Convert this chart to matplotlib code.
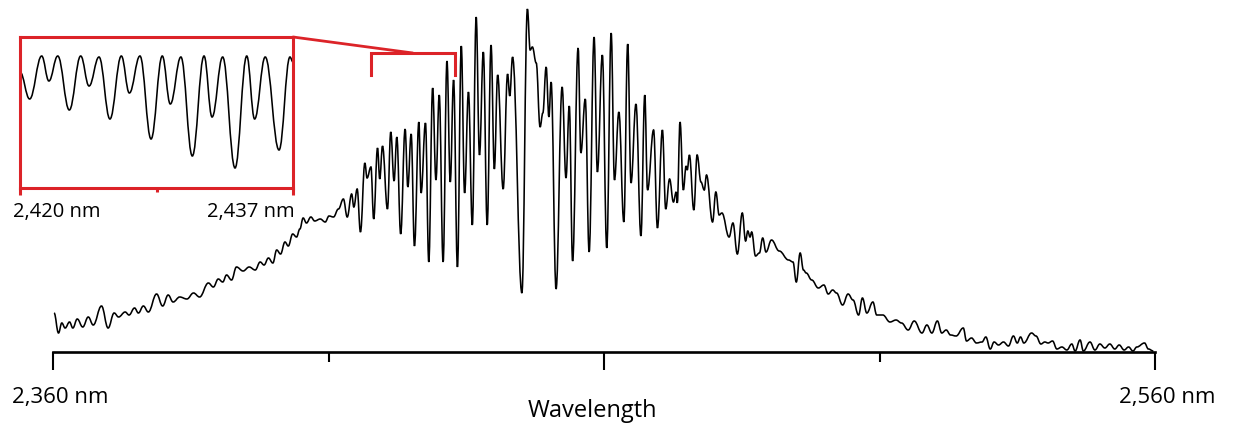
import matplotlib
matplotlib.use('Agg')
import matplotlib.pyplot as plt
from matplotlib.path import Path
from matplotlib.patches import PathPatch, ConnectionPatch
from matplotlib.transforms import ScaledTranslation

plt.rcParams['font.family'] = ['Open Sans', 'DejaVu Sans']

# main spectrum: wavelength (nm) and intensity (a.u.), read at the wiggle extrema
wavelength = [
    2360.2, 2361.0, 2361.6, 2362.2, 2363.0, 2363.6, 2364.4, 2365.4, 2366.4, 2367.3,
    2368.8, 2370.0, 2371.1, 2371.9, 2373.1, 2373.8, 2374.8, 2375.5, 2376.4, 2377.3,
    2378.8, 2379.9, 2380.9, 2381.8, 2383.0, 2384.3, 2385.5, 2386.6, 2388.2, 2389.1,
    2390.0, 2390.8, 2391.5, 2392.4, 2393.3, 2394.5, 2395.6, 2396.7, 2397.6, 2398.3,
    2399.1, 2399.9, 2400.6, 2401.3, 2402.1, 2402.7, 2403.5, 2404.2, 2404.8, 2405.4,
    2406.0, 2406.8, 2407.5, 2408.5, 2409.4, 2410.1, 2410.9, 2411.8,
    2412.7, 2413.4, 2414.2, 2414.6, 2415.2, 2415.8, 2416.6, 2417.0, 2417.7, 2418.2,
    2418.9, 2419.3, 2419.8, 2420.7, 2421.3, 2421.9, 2422.4, 2423.1, 2423.9, 2424.4,
    2425.0, 2425.6, 2426.4, 2426.8, 2427.6, 2428.2, 2428.9, 2429.5, 2430.1, 2430.8,
    2431.5, 2432.1, 2432.7, 2433.4, 2434.1, 2434.7, 2435.4, 2436.1, 2436.8, 2437.4,
    2438.1, 2438.8, 2439.5, 2440.1, 2440.7, 2441.7, 2442.5, 2442.9, 2443.4, 2445.1,
    2446.1, 2446.6, 2447.0, 2447.7, 2448.4, 2448.9, 2449.5, 2450.0, 2450.4, 2451.3,
    2452.4, 2453.1, 2453.7, 2454.3, 2455.3, 2455.8, 2456.6, 2457.3, 2458.2, 2458.8,
    2459.7, 2460.5, 2461.3, 2461.9, 2462.7, 2463.6, 2464.3, 2464.9, 2465.8, 2466.7,
    2467.4, 2467.9, 2469.0, 2469.7, 2470.6, 2471.2, 2471.9, 2472.6, 2473.1, 2473.3,
    2473.8, 2474.4, 2474.9, 2475.1, 2475.5, 2476.3, 2476.9, 2477.6, 2478.2, 2478.6,
    2479.7, 2480.3, 2480.9, 2481.4, 2482.7, 2483.4, 2484.2, 2485.1, 2485.7, 2486.1,
    2486.5, 2486.8, 2487.5, 2488.2, 2488.8, 2489.4, 2490.4, 2491.8, 2493.5, 2494.3,
    2494.9, 2495.6, 2496.2, 2496.7, 2497.7, 2498.9, 2499.9, 2500.7, 2501.5, 2502.2,
    2503.3, 2504.3, 2505.2, 2506.2, 2506.9, 2507.7, 2508.8, 2509.5, 2510.6, 2511.9,
    2513.0, 2514.0, 2515.2, 2516.3, 2517.7, 2518.6, 2519.5, 2520.5, 2521.3, 2522.1,
    2522.9, 2523.9, 2525.2, 2525.8, 2526.7, 2527.6, 2528.6, 2529.3, 2530.1, 2530.8,
    2531.6, 2532.5, 2533.4, 2534.3, 2535.0, 2535.6, 2536.2, 2537.6, 2538.4, 2539.3,
    2540.0, 2540.6, 2541.4, 2542.2, 2543.1, 2544.0, 2544.9, 2545.5, 2546.4, 2547.0,
    2548.2, 2549.1, 2550.0, 2550.9, 2551.8, 2552.7, 2553.5, 2554.4, 2555.2, 2556.0,
    2556.7, 2558.1, 2558.8, 2559.7,
]
intensity = [
    39, 19, 29, 24, 30, 24, 33, 25, 35, 27,
    46, 24, 39, 35, 40, 37, 44, 39, 46, 40,
    58, 46, 57, 50, 55, 53, 59, 55, 69, 65,
    73, 70, 77, 72, 85, 81, 85, 82, 90, 87,
    94, 89, 102, 98, 110, 106, 118, 115, 123, 134,
    129, 135, 131, 133, 130, 136, 135, 143,
    153, 135, 158, 145, 163, 120, 189, 174, 185, 133,
    204, 173, 206, 143, 220, 171, 215, 118, 223, 165,
    218, 106, 230, 159, 229, 90, 264, 172, 257, 90,
    291, 170, 272, 85, 306, 159, 260, 127, 335, 197,
    300, 127, 307, 183, 277, 163, 278, 256, 295, 59,
    343, 302, 305, 289, 225, 239, 285, 235, 270, 63,
    265, 174, 246, 91, 304, 199, 253, 100, 315, 180,
    297, 104, 319, 172, 240, 130, 308, 169, 248, 116,
    257, 162, 222, 124, 222, 143, 173, 150, 160, 149,
    230, 162, 186, 182, 197, 142, 197, 170, 162, 177,
    130, 160, 137, 139, 115, 129, 98, 139, 111, 121,
    115, 120, 96, 99, 114, 100, 112, 101, 92, 90,
    70, 99, 82, 79, 72, 64, 67, 58, 62, 59,
    47, 58, 52, 37, 54, 39, 50, 37, 37, 30,
    32, 29, 22, 31, 19, 27, 19, 31, 19, 22,
    17, 16, 24, 11, 14, 9, 10, 15, 3, 10,
    7, 10, 6, 16, 9, 15, 9, 19, 16, 8,
    10, 9, 11, 3, 5, 2, 8, 1, 12, 1,
    10, 2, 8, 4, 8, 3, 7, 2, 5, 1,
    5, 9, 3, 1,
]

# zoomed window 2,420-2,437 nm
inset_wavelength = [
    2420.0, 2420.6, 2421.35, 2421.8, 2422.35, 2423.07, 2423.78, 2424.3, 2424.92, 2425.6,
    2426.31, 2426.81, 2427.47, 2428.16, 2428.86, 2429.36, 2430.02, 2430.73, 2431.46, 2431.96,
    2432.62, 2433.39, 2434.12, 2434.61, 2435.27, 2436.13, 2436.81, 2437.0,
]
inset_intensity = [
    116, 89, 132, 107, 132, 78, 132, 102, 131, 69,
    132, 95, 132, 49, 132, 84, 131, 32, 132, 71,
    131, 20, 132, 69, 131, 38, 131, 126,
]

main_ticks = [2360, 2460, 2560]
main_tick_labels = ['2,360 nm', '', '2,560 nm']
minor_ticks = [2410, 2510]
bracket_x = [2417.8, 2433.0]
bracket_top = 299
bracket_drop = 22
connector_x = 2425.3

red = '#dc2328'


def smooth_path(xs, ys, k=0.4):
    # cubic segments with flat tangents at each extremum
    verts = [(xs[0], ys[0])]
    codes = [Path.MOVETO]
    for i in range(1, len(xs)):
        dx = xs[i] - xs[i - 1]
        verts += [(xs[i - 1] + k * dx, ys[i - 1]), (xs[i] - k * dx, ys[i]), (xs[i], ys[i])]
        codes += [Path.CURVE4] * 3
    return Path(verts, codes)


fig = plt.figure(figsize=(12.34, 4.36), dpi=100)
ax = fig.add_axes([53 / 1234, 84 / 436, 1102 / 1234, 345 / 436])
ax.add_patch(PathPatch(smooth_path(wavelength, intensity), fill=False, color='black', lw=1.15))
ax.set_xlim(2360, 2560)
ax.set_ylim(0, 345)
for s in ['top', 'left', 'right']:
    ax.spines[s].set_visible(False)
ax.spines['bottom'].set_linewidth(1.9)
ax.set_yticks([])
ax.set_xticks(main_ticks)
ax.set_xticklabels(main_tick_labels, fontsize=16)
ax.set_xticks(minor_ticks, minor=True)
ax.tick_params(axis='x', which='major', direction='out', length=13, width=1.5, pad=12)
ax.tick_params(axis='x', which='minor', direction='out', length=7, width=1.5)
# labels sit a little right of their ticks in the original
for lab, shift in zip(ax.get_xticklabels(), [0.07, 0, 0.12]):
    lab.set_transform(lab.get_transform() + ScaledTranslation(shift, 0, fig.dpi_scale_trans))
fig.text(592 / 1234, 1 - 411 / 436, 'Wavelength', ha='center', va='center', fontsize=17)

# bracket marking the zoomed region
ax.plot([bracket_x[0], bracket_x[0], bracket_x[1], bracket_x[1]],
        [bracket_top - bracket_drop, bracket_top, bracket_top, bracket_top - bracket_drop],
        color=red, lw=2.2, solid_joinstyle='miter', clip_on=False)

axin = fig.add_axes([20 / 1234, 248 / 436, 273 / 1234, 151 / 436])
axin.add_patch(PathPatch(smooth_path(inset_wavelength, inset_intensity), fill=False,
                         color='black', lw=1.15))
axin.set_xlim(2420, 2437)
axin.set_ylim(0, 151)
for s in axin.spines.values():
    s.set_color(red)
    s.set_linewidth(2.2)
axin.set_yticks([])
axin.set_xticks([2420, 2437])
axin.set_xticklabels([])
axin.set_xticks([2428.5], minor=True)
axin.tick_params(axis='x', which='major', color=red, length=5, width=2.2)
axin.tick_params(axis='x', which='minor', color=red, length=3, width=2.2)
axin.text(-0.027, -0.157, '2,420 nm', transform=axin.transAxes, ha='left', va='center', fontsize=14.5)
axin.text(1.007, -0.157, '2,437 nm', transform=axin.transAxes, ha='right', va='center', fontsize=14.5)

con = ConnectionPatch(xyA=(1, 1), coordsA=axin.transAxes,
                      xyB=(connector_x, bracket_top), coordsB=ax.transData,
                      color=red, lw=2.0)
fig.add_artist(con)

fig.savefig('out.png', dpi=100)
